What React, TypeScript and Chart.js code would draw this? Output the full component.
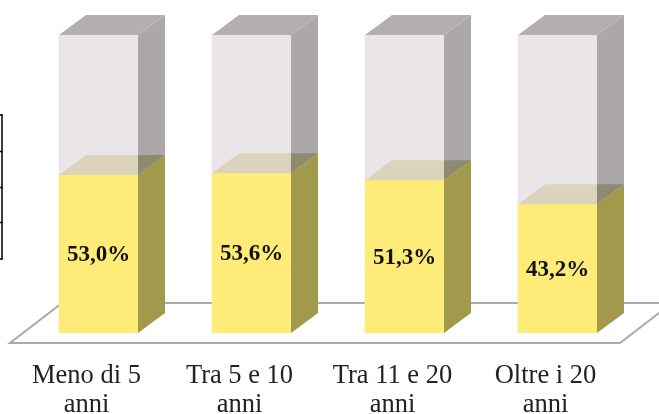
import React, { useEffect, useRef } from "react";
import { Chart, registerables } from "chart.js";

Chart.register(...registerables);

const categories = [["Meno di 5", "anni"], ["Tra 5 e 10", "anni"], ["Tra 11 e 20", "anni"], ["Oltre i 20", "anni"]];
const yellowValues = [53.0, 53.6, 51.3, 43.2];
const greyValues = [47.0, 46.4, 48.7, 56.8];
const percentLabels = ["53,0%", "53,6%", "51,3%", "43,2%"];

const poly = (ctx: CanvasRenderingContext2D, pts: number[][], fill: string) => {
  ctx.beginPath();
  pts.forEach(([x, y], i) => (i ? ctx.lineTo(x, y) : ctx.moveTo(x, y)));
  ctx.closePath();
  ctx.fillStyle = fill;
  ctx.fill();
};

const DX = 27;
const DY = -20;

const floorPlugin = {
  id: "floor",
  beforeDatasetsDraw(chart: any) {
    const { ctx, chartArea: a, width } = chart;
    const fy = a.bottom + 10;
    const by = a.bottom - 30;
    ctx.save();
    ctx.strokeStyle = "#a9a9a9";
    ctx.lineWidth = 2;
    ctx.beginPath();
    ctx.moveTo(a.left + 40, by);
    ctx.lineTo(width, by);
    ctx.moveTo(a.left + 40, by);
    ctx.lineTo(a.left - 12, fy);
    ctx.lineTo(a.right - 14, fy);
    ctx.lineTo(a.right + 38, by);
    ctx.stroke();
    ctx.restore();
  },
};

const faces3dPlugin = {
  id: "faces3d",
  afterDatasetsDraw(chart: any) {
    const { ctx } = chart;
    const yel = chart.getDatasetMeta(0).data;
    const gre = chart.getDatasetMeta(1).data;
    ctx.save();
    yel.forEach((bar: any, i: number) => {
      const g = gre[i];
      const l = bar.x - bar.width / 2;
      const r = bar.x + bar.width / 2;
      const b = bar.base;
      const m = bar.y;
      const t = g.y;
      // grey side and top
      poly(ctx, [[r, t], [r + DX, t + DY], [r + DX, m + DY], [r, m]], "#aca8aa");
      poly(ctx, [[l, t], [l + DX, t + DY], [r + DX, t + DY], [r, t]], "#b3afb0");
      // yellow lid seen through the grey
      poly(ctx, [[l, m], [l + DX, m + DY], [r, m + DY], [r, m]], "#dbd3bc");
      poly(ctx, [[r, m], [r + DX, m + DY], [r, m + DY]], "#8e8a72");
      // yellow side
      poly(ctx, [[r, m], [r + DX, m + DY], [r + DX, b + DY], [r, b]], "#a1994b");
    });
    // values
    ctx.fillStyle = "#111";
    ctx.font = 'bold 23px "Liberation Serif", serif';
    ctx.textAlign = "center";
    ctx.textBaseline = "middle";
    yel.forEach((bar: any, i: number) => {
      ctx.fillText(percentLabels[i], bar.x, (bar.y + bar.base) / 2 + 1);
    });
    // clipped table border at the left edge
    ctx.strokeStyle = "#000";
    ctx.lineWidth = 1.5;
    ctx.beginPath();
    [115, 151.5, 187.5, 222.5, 259].forEach((y) => {
      ctx.moveTo(0, y);
      ctx.lineTo(3, y);
    });
    ctx.moveTo(2, 115);
    ctx.lineTo(2, 259);
    ctx.stroke();
    ctx.restore();
  },
};

export default function App() {
  const ref = useRef<HTMLCanvasElement>(null);
  useEffect(() => {
    const chart = new Chart(ref.current!, {
      type: "bar",
      data: {
        labels: categories,
        datasets: [
          { data: yellowValues, backgroundColor: "#ffeb78", barThickness: 79 },
          { data: greyValues, backgroundColor: "#e9e5e8", barThickness: 79 },
        ],
      },
      options: {
        animation: false,
        responsive: false,
        layout: { padding: { left: 22, right: 25, top: 35, bottom: 0 } },
        plugins: { legend: { display: false }, tooltip: { enabled: false } },
        scales: {
          x: {
            stacked: true,
            grid: { display: false },
            border: { display: false },
            afterFit: (s: any) => { s.height = 81; },
            ticks: {
              maxRotation: 0,
              autoSkip: false,
              padding: 21,
              labelOffset: -12,
              color: "#222",
              font: { family: '"Liberation Serif", serif', size: 26.5, lineHeight: 1.09 },
            },
          },
          y: { stacked: true, display: false, min: 0, max: 100 },
        },
      },
      plugins: [floorPlugin, faces3dPlugin],
    });
    return () => chart.destroy();
  }, []);
  return (
    <div style={{ position: "fixed", left: 0, top: 0, width: 659, height: 414, background: "#fff", overflow: "hidden" }}>
      <canvas ref={ref} width={659} height={414} style={{ display: "block", filter: "blur(0.4px)" }} />
    </div>
  );
}
